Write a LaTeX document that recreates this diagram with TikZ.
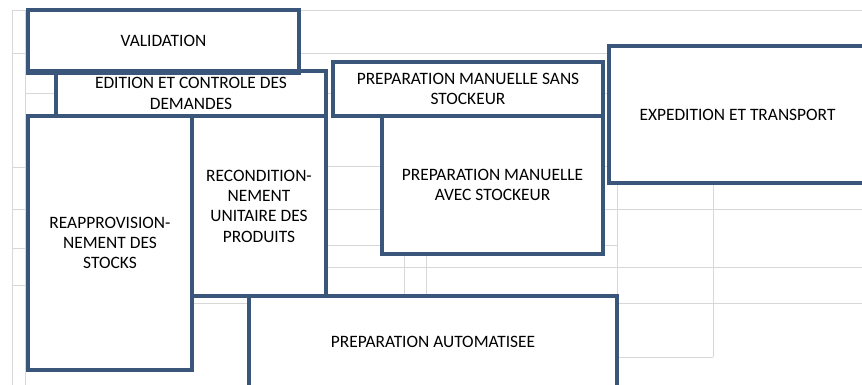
\documentclass[tikz,border=0pt]{standalone}
\usepackage{fontspec}
\setmainfont{Carlito}
\usepackage{tikz}
\usetikzlibrary{positioning}
\definecolor{laneblue}{RGB}{58,86,122}
\definecolor{gridgray}{RGB}{215,215,215}

\begin{document}
\begin{tikzpicture}[x=0.02cm, y=-0.02cm,
    box/.style={draw=laneblue, line width=2pt, fill=white, inner sep=0pt,
                align=center, font=\fontsize{9.9}{11.6}\selectfont},
    gridline/.style={draw=gridgray, line width=0.5pt}]
            \useasboundingbox (0,0) rectangle (862,385);

            % Background grid
            \foreach \y in {10,53,93,166,209,267,303}
                \draw[gridline] (25,\y) -- (862,\y);
            \draw[gridline] (192,245) -- (617,245);
            \foreach \x in {12,25}
                \draw[gridline] (\x,10) -- (\x,385);
            \foreach \y in {10,53,167,209,248,285}
                \draw[gridline] (12,\y) -- (25,\y);
            \foreach \x in {404,426}
                \draw[gridline] (\x,166) -- (\x,303);
            \foreach \x in {617,713}
                \draw[gridline] (\x,183) -- (\x,357);
            \draw[gridline] (617,357) -- (713,357);

            % Validation
            \node[box, minimum width=5.42cm, minimum height=1.22cm] (valid) at (163.5,40.5) {VALIDATION};

            % Edition
            \node[box, minimum width=5.4cm, minimum height=0.9cm] (edit) at (191,93.5) {EDITION ET CONTROLE DES\\DEMANDES};
            \draw[draw=laneblue, line width=2pt] (valid.south west) -- (valid.south east);

            % Reapprovisionnement
            \node[box, minimum width=3.28cm, minimum height=5.08cm] (reappro) at (110,243) {REAPPROVISION-\\NEMENT DES\\STOCKS};

            % Reconditionnement
            \node[box, minimum width=2.68cm, minimum height=3.6cm] (recond) at (259,206) {RECONDITION-\\NEMENT\\UNITAIRE DES\\PRODUITS};

            % Preparation manuelle
            \node[box, minimum width=5.4cm, minimum height=1.08cm] (sans) at (468,89) {PREPARATION MANUELLE SANS\\STOCKEUR};
            \node[box, minimum width=4.42cm, minimum height=2.76cm] (avec) at (492.5,185) {PREPARATION MANUELLE\\AVEC STOCKEUR};

            % Expedition
            \node[box, minimum width=5.14cm, minimum height=2.74cm] (exped) at (737.5,114.5) {EXPEDITION ET TRANSPORT};

            % Preparation automatisee
            \node[box, minimum width=7.36cm, minimum height=1.84cm] (auto) at (433,342) {PREPARATION AUTOMATISEE};
        \end{tikzpicture}
\end{document}
